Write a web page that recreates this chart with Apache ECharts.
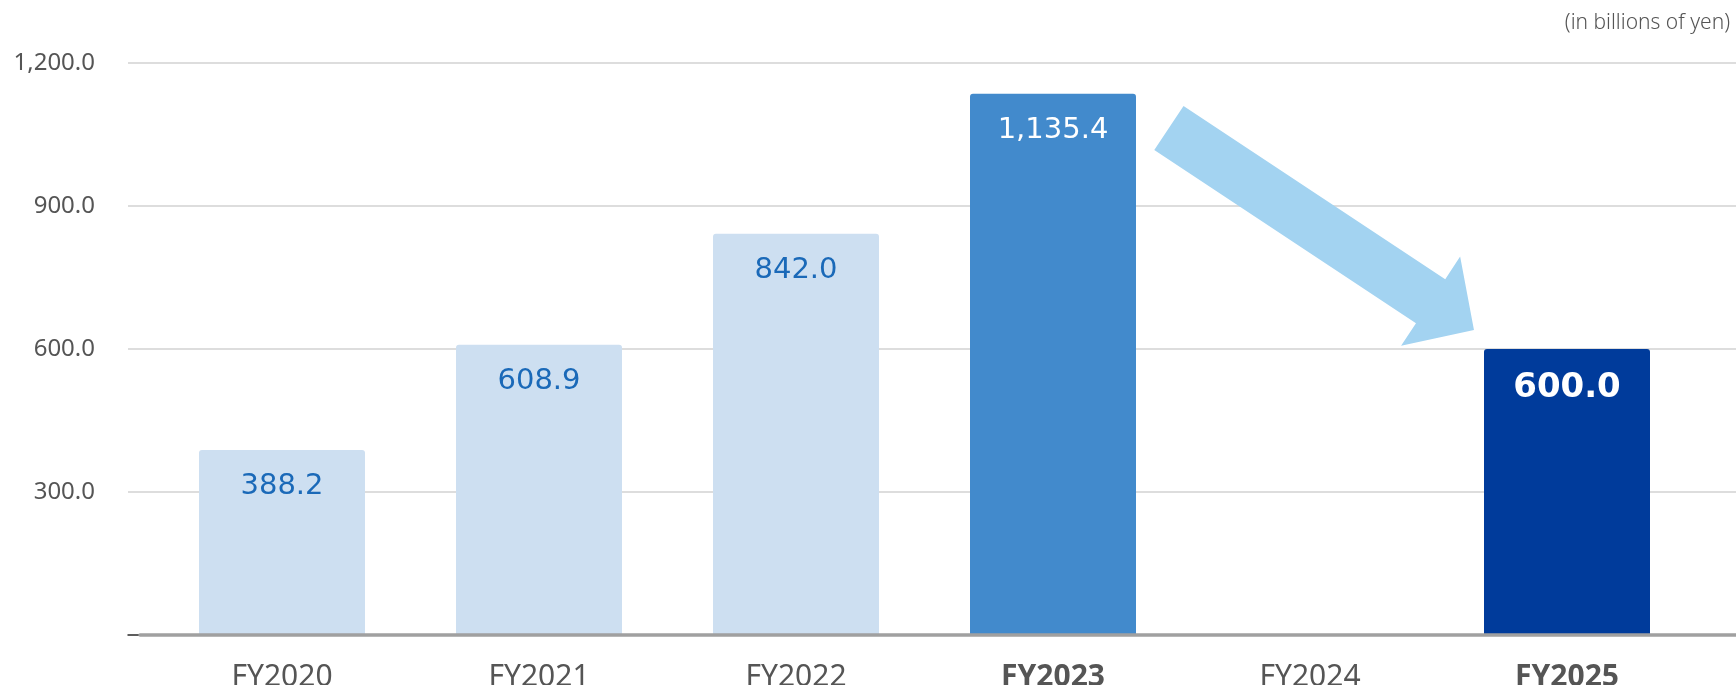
<!DOCTYPE html>
<html>
<head>
<meta charset="utf-8">
<script src="https://cdn.jsdelivr.net/npm/echarts@6/dist/echarts.min.js"></script>
<style>
    html, body { margin: 0; padding: 0; background: #fff; }
    #chart { width: 1736px; height: 685px; }
</style>
</head>
<body>
<div id="chart"></div>
<script>
// data
const years = ['FY2020', 'FY2021', 'FY2022', 'FY2023', 'FY2024', 'FY2025'];
const amounts = [388.2, 608.9, 842.0, 1135.4, null, 600.0];
const boldYears = ['FY2023', 'FY2025'];
const yTicks = [0, 300, 600, 900, 1200];
const unitNote = '(in billions of yen)';
// arrow from FY2023 towards FY2025: [category position, value]
const arrowFrom = [3.451, 1063.6];
const arrowTo = [4.638, 640];

const barColors = ['#cddff1', '#cddff1', '#cddff1', '#428acc', '#cddff1', '#003b9b'];
const labelColors = ['#1a69b8', '#1a69b8', '#1a69b8', '#ffffff', '#ffffff', '#ffffff'];

const chart = echarts.init(document.getElementById('chart'));

function fmt(v) {
    return Number(v).toLocaleString('en-US', { minimumFractionDigits: 1, maximumFractionDigits: 1 });
}

const yMax = yTicks[yTicks.length - 1];
const yStep = yTicks[1] - yTicks[0];

let barData = amounts.map((v, i) => {
    if (v === null) return '-';
    let last = i === amounts.length - 1;
    return {
        value: v,
        itemStyle: { color: barColors[i], borderRadius: [3, 3, 0, 0] },
        label: {
            color: labelColors[i],
            fontWeight: last ? 'bold' : 'normal',
            fontSize: last ? 34 : 29,
            distance: 22
        }
    };
});

let option = {
    animation: false,
    title: {
        text: unitNote,
        right: 1,
        top: 8,
        textStyle: { fontFamily: 'Noto Sans', fontWeight: 300, fontSize: 21, color: '#555' }
    },
    grid: [
        { left: 128, right: 0, top: 63, bottom: 50, outerBoundsMode: 'none' },
        { left: 140, right: 0, top: 63, bottom: 50, outerBoundsMode: 'none' },
        { left: 153.5, right: 40.5, top: 63, bottom: 50, outerBoundsMode: 'none' }
    ],
    xAxis: [
        {
            gridIndex: 0, type: 'category', data: [''],
            axisLine: { lineStyle: { color: '#333', width: 1.5 } },
            axisTick: { show: false }, axisLabel: { show: false }
        },
        {
            gridIndex: 1, type: 'category', data: [''], z: 5,
            axisLine: { lineStyle: { color: '#a0a0a0', width: 3.5 } },
            axisTick: { show: false }, axisLabel: { show: false }
        },
        {
            gridIndex: 2, type: 'category',
            data: years.map(y => ({
                value: y,
                textStyle: { fontWeight: boldYears.indexOf(y) >= 0 ? 'bold' : 'normal' }
            })),
            axisLine: { show: false },
            axisTick: { show: false },
            axisLabel: {
                margin: 27,
                fontFamily: 'Noto Sans',
                fontSize: 30,
                color: '#555'
            }
        }
    ],
    yAxis: [
        {
            gridIndex: 0, type: 'value', min: 0, max: yMax, interval: yStep,
            axisLine: { show: false }, axisTick: { show: false },
            axisLabel: {
                margin: 33,
                fontFamily: 'Noto Sans',
                fontSize: 24,
                color: '#555',
                lineHeight: 30,
                padding: [4, 0, 0, 0],
                formatter: v => (v === 0 ? '' : fmt(v))
            },
            splitLine: { lineStyle: { color: '#d2d2d2', width: 1.5 } }
        },
        { gridIndex: 1, type: 'value', min: 0, max: yMax, show: false },
        { gridIndex: 2, type: 'value', min: 0, max: yMax, show: false }
    ],
    series: [
        {
            type: 'bar',
            xAxisIndex: 2,
            yAxisIndex: 2,
            barWidth: 166,
            data: barData,
            label: {
                show: true,
                position: 'insideTop',
                fontFamily: 'DejaVu Sans',
                formatter: p => fmt(p.value)
            }
        }
    ]
};

chart.setOption(option);

// category axis only maps whole indices, so interpolate between neighbours
function toPixel(pt) {
    let i = Math.floor(pt[0]);
    let f = pt[0] - i;
    let p0 = chart.convertToPixel({ gridIndex: 2 }, [i, pt[1]]);
    let p1 = chart.convertToPixel({ gridIndex: 2 }, [i + 1, pt[1]]);
    return [p0[0] + (p1[0] - p0[0]) * f, p0[1]];
}

function drawArrow() {
    const a = toPixel(arrowFrom);
    const b = toPixel(arrowTo);
    const dx = b[0] - a[0], dy = b[1] - a[1];
    const len = Math.sqrt(dx * dx + dy * dy);
    const ux = dx / len, uy = dy / len;
    const nx = -uy, ny = ux;
    const shaftHalf = 26.5, headHalf = 53.5, headLen = 52;
    const base = [b[0] - ux * headLen, b[1] - uy * headLen];
    const pts = [
        [a[0] + nx * shaftHalf, a[1] + ny * shaftHalf],
        [base[0] + nx * shaftHalf, base[1] + ny * shaftHalf],
        [base[0] + nx * headHalf, base[1] + ny * headHalf],
        b,
        [base[0] - nx * headHalf, base[1] - ny * headHalf],
        [base[0] - nx * shaftHalf, base[1] - ny * shaftHalf],
        [a[0] - nx * shaftHalf, a[1] - ny * shaftHalf]
    ];
    chart.setOption({
        graphic: [{
            id: 'arrow',
            type: 'polygon',
            shape: { points: pts },
            style: { fill: '#a3d3f1' },
            z: 10
        }]
    });
}
drawArrow();

window.addEventListener('resize', () => {
    chart.resize();
    drawArrow();
});
</script>
</body>
</html>
